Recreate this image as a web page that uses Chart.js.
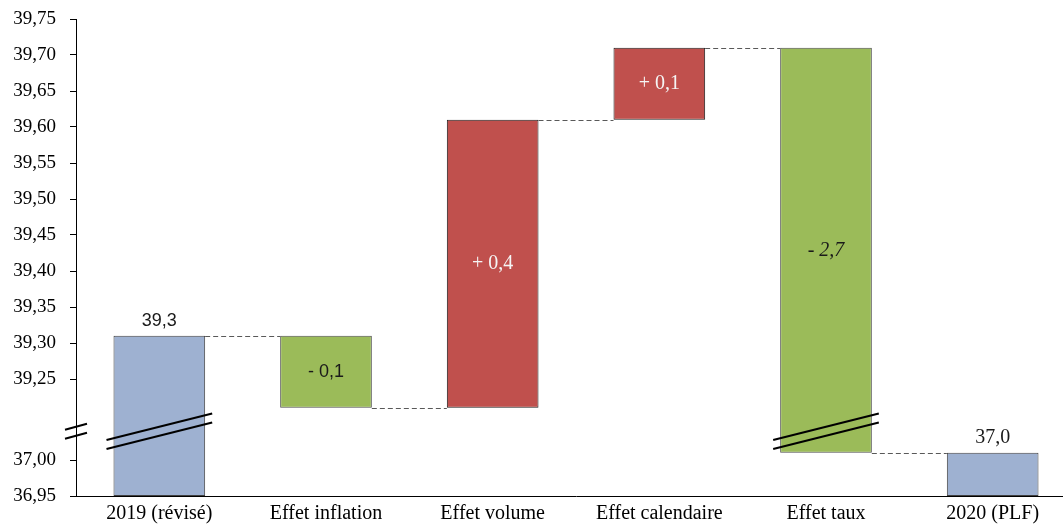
<!DOCTYPE html>
<html>
<head>
<meta charset="utf-8">
<title>De 2019 à 2020 (PLF)</title>
<script src="https://cdn.jsdelivr.net/npm/chart.js@4.4.1/dist/chart.umd.min.js"></script>
<style>
  html, body { margin: 0; padding: 0; background: #ffffff; overflow: hidden; }
  #wrap { width: 1080px; height: 525px; }
</style>
</head>
<body>
<div id="wrap"><canvas id="chart" width="1080" height="525"></canvas></div>
<script>
// Categories of the waterfall
const categories = ['2019 (révisé)', 'Effet inflation', 'Effet volume', 'Effet calendaire', 'Effet taux', '2020 (PLF)'];
// Starting total, the four effects, and the resulting total
const startTotal = 39.31;
const effects = [-0.10, 0.40, 0.10, -2.70];
const endTotal = 37.01;
// Values shown on the (broken) vertical axis
const yTickValues = [36.95, 37.00, 39.25, 39.30, 39.35, 39.40, 39.45, 39.50, 39.55, 39.60, 39.65, 39.70, 39.75];

// Broken axis: the lower segment ends at 37,00, the upper one starts at 39,25,
// and the two are separated by a fixed gap (in axis units).
const LOWER_TOP = 37.00;
const UPPER_BOTTOM = 39.25;
const BREAK_GAP = 0.1125;
const BREAK_MARK = 37.04;   // where the "//" break marks sit on the axis
function toAxis(v) {
  return v < 38 ? v : v - UPPER_BOTTOM + LOWER_TOP + BREAK_GAP;
}
const fmt = (v) => v.toFixed(1).replace('.', ',');

// Build the floating bars and the running levels
const axisMin = yTickValues[0];
const axisMax = toAxis(yTickValues[yTickValues.length - 1]);
const bars = [];
const levels = [];        // level reached after each bar
const valueLabels = [];
let running = startTotal;
bars.push([axisMin, toAxis(startTotal)]);
levels.push(startTotal);
valueLabels.push(fmt(startTotal));
effects.forEach((d) => {
  const next = running + d;
  bars.push([toAxis(Math.min(running, next)), toAxis(Math.max(running, next))]);
  levels.push(next);
  valueLabels.push((d < 0 ? '- ' : '+ ') + fmt(Math.abs(d)));
  running = next;
});
bars.push([axisMin, toAxis(endTotal)]);
levels.push(endTotal);
valueLabels.push(fmt(endTotal));

const kinds = ['total', ...effects.map((d) => (d < 0 ? 'down' : 'up')), 'total'];
const fillFor = { total: '#9eb1d1', down: '#9bbb59', up: '#c0504d' };
const edgeFor = { total: '#404040', down: '#4d4d4d', up: '#1f1f1f' };

// How each value label is written
const labelStyle = [
  { font: '18px "Liberation Sans"', color: '#1a1a1a', inside: false },
  { font: '18px "Liberation Sans"', color: '#1a1a1a', inside: true },
  { font: '20px "Liberation Serif"', color: '#f5f5f5', inside: true },
  { font: '20px "Liberation Serif"', color: '#f5f5f5', inside: true },
  { font: 'italic 20px "Liberation Serif"', color: '#1a1a1a', inside: true },
  { font: '20px "Liberation Serif"', color: '#1a1a1a', inside: false }
];

// Connectors, break marks and value labels
const waterfallExtras = {
  id: 'waterfallExtras',
  afterDatasetsDraw(chart) {
    const { ctx } = chart;
    const y = chart.scales.y;
    const meta = chart.getDatasetMeta(0);
    const els = meta.data;

    // dashed connectors between consecutive bars
    ctx.save();
    ctx.strokeStyle = '#595959';
    ctx.lineWidth = 1;
    ctx.setLineDash([5, 3]);
    for (let i = 0; i < els.length - 1; i++) {
      const a = els[i], b = els[i + 1];
      const py = Math.round(y.getPixelForValue(toAxis(levels[i]))) + 0.5;
      ctx.beginPath();
      ctx.moveTo(a.x + a.width / 2, py);
      ctx.lineTo(b.x - b.width / 2, py);
      ctx.stroke();
    }
    ctx.restore();

    // break marks: on the axis and across the bars that span the break
    const by = y.getPixelForValue(BREAK_MARK);
    const drawPair = (cx, halfW, slope) => {
      ctx.save();
      ctx.strokeStyle = '#000000';
      ctx.lineWidth = 2;
      [-4.5, 4.5].forEach((off) => {
        ctx.beginPath();
        ctx.moveTo(cx - halfW, by + off + halfW * slope);
        ctx.lineTo(cx + halfW, by + off - halfW * slope);
        ctx.stroke();
      });
      ctx.restore();
    };
    drawPair(chart.chartArea.left, 11, 0.27);
    els.forEach((el, i) => {
      const lo = Math.min(bars[i][0], bars[i][1]);
      const hi = Math.max(bars[i][0], bars[i][1]);
      if (lo < BREAK_MARK && hi > BREAK_MARK) {
        drawPair(el.x, el.width / 2 + 7, 0.25);
      }
    });

    // value labels
    ctx.save();
    ctx.textAlign = 'center';
    ctx.textBaseline = 'middle';
    els.forEach((el, i) => {
      const st = labelStyle[i];
      const top = Math.min(el.y, el.base);
      const bottom = Math.max(el.y, el.base);
      ctx.font = st.font;
      ctx.fillStyle = st.color;
      const ty = st.inside ? (top + bottom) / 2 : top - 15;
      ctx.fillText(valueLabels[i], el.x, ty);
    });
    ctx.restore();
  }
};

new Chart(document.getElementById('chart'), {
  type: 'bar',
  data: {
    labels: categories,
    datasets: [{
      data: bars,
      backgroundColor: kinds.map((k) => fillFor[k]),
      borderColor: kinds.map((k) => edgeFor[k]),
      borderWidth: 1,
      borderSkipped: false,
      barPercentage: 0.55,
      categoryPercentage: 1
    }]
  },
  options: {
    responsive: false,
    animation: false,
    devicePixelRatio: 1,
    layout: { padding: { top: 19, right: 4, left: 0, bottom: 0 } },
    plugins: {
      legend: { display: false },
      tooltip: { enabled: false }
    },
    scales: {
      x: {
        grid: { drawOnChartArea: false, drawTicks: false },
        border: { display: true, color: '#000000', width: 1 },
        ticks: {
          color: '#000000',
          font: { family: '"Liberation Serif"', size: 20 },
          padding: 6,
          maxRotation: 0,
          autoSkip: false
        },
        afterFit(scale) { scale.height = 29; }
      },
      y: {
        min: axisMin,
        max: axisMax,
        grid: { drawOnChartArea: false, drawTicks: true, tickLength: 6, color: '#000000' },
        border: { display: true, color: '#000000', width: 1 },
        afterBuildTicks(scale) {
          scale.ticks = yTickValues.map((v) => ({ value: toAxis(v) }));
        },
        ticks: {
          autoSkip: false,
          color: '#000000',
          font: { family: '"Liberation Serif"', size: 19 },
          padding: 14,
          callback(value, index) {
            return yTickValues[index].toFixed(2).replace('.', ',');
          }
        },
        afterFit(scale) {
          scale.width = 76;
          scale.paddingTop = 0;
          scale.paddingBottom = 0;
        }
      }
    }
  },
  plugins: [waterfallExtras]
});
</script>
</body>
</html>
